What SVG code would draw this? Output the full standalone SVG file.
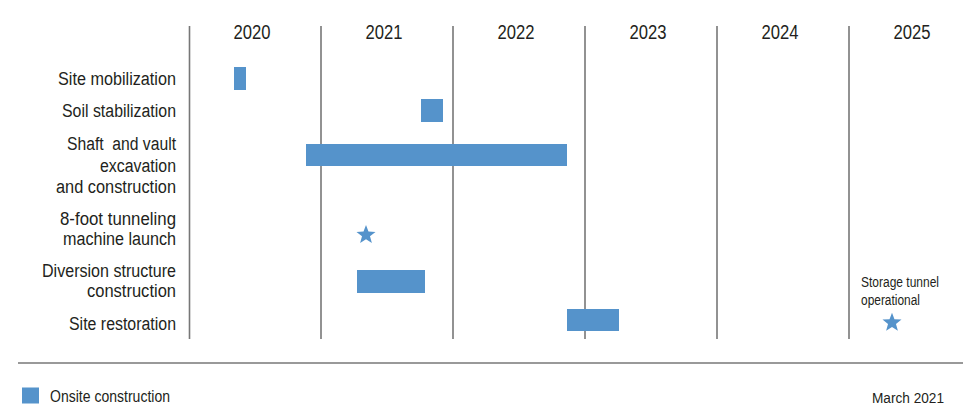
<svg xmlns="http://www.w3.org/2000/svg" xmlns:xlink="http://www.w3.org/1999/xlink" width="970" height="411" viewBox="0 0 970 411">
<style>
  .grid { stroke: #777777; stroke-width: 1.6; fill: none; }
  .year { font-family: "Liberation Sans", Arial, sans-serif; font-size: 20px; fill: #231f20; text-anchor: middle; }
  .row { font-family: "Liberation Sans", Arial, sans-serif; font-size: 18px; fill: #231f20; text-anchor: end; white-space: pre; }
  .bar { fill: #5593cb; }
  .note { font-family: "Liberation Sans", Arial, sans-serif; font-size: 14px; fill: #231f20; }
  .legend { font-family: "Liberation Sans", Arial, sans-serif; font-size: 17px; fill: #231f20; }
  .date { font-family: "Liberation Sans", Arial, sans-serif; font-size: 15.5px; fill: #231f20; }
</style>
<defs>
  <path id="star" d="M0,-10 L2.47,-3.4 L9.51,-3.09 L3.99,1.3 L5.88,8.09 L0,4.2 L-5.88,8.09 L-3.99,1.3 L-9.51,-3.09 L-2.47,-3.4 Z" fill="#5593cb"/>
</defs>
<rect width="970" height="411" fill="#ffffff"/>
<g id="connectors">
  <line class="grid" x1="189.5" y1="26" x2="189.5" y2="339"/>
  <line class="grid" x1="321" y1="26" x2="321" y2="339"/>
  <line class="grid" x1="453" y1="26" x2="453" y2="339"/>
  <line class="grid" x1="585" y1="26" x2="585" y2="339"/>
  <line class="grid" x1="717" y1="26" x2="717" y2="339"/>
  <line class="grid" x1="849" y1="26" x2="849" y2="339"/>
  <line class="grid" x1="18" y1="363" x2="963" y2="363"/>
</g>
<g id="years">
  <text class="year" x="252" y="39" textLength="37" lengthAdjust="spacingAndGlyphs">2020</text>
  <text class="year" x="384" y="39" textLength="37" lengthAdjust="spacingAndGlyphs">2021</text>
  <text class="year" x="516" y="39" textLength="37" lengthAdjust="spacingAndGlyphs">2022</text>
  <text class="year" x="648" y="39" textLength="37" lengthAdjust="spacingAndGlyphs">2023</text>
  <text class="year" x="780" y="39" textLength="37" lengthAdjust="spacingAndGlyphs">2024</text>
  <text class="year" x="912" y="39" textLength="37" lengthAdjust="spacingAndGlyphs">2025</text>
</g>
<g id="site-mobilization">
  <text class="row" x="176" y="85" textLength="118" lengthAdjust="spacingAndGlyphs">Site mobilization</text>
  <rect class="bar" x="234" y="67" width="12" height="23"/>
</g>
<g id="soil-stabilization">
  <text class="row" x="176" y="116.5" textLength="114" lengthAdjust="spacingAndGlyphs">Soil stabilization</text>
  <rect class="bar" x="421" y="99" width="22" height="23"/>
</g>
<g id="shaft-vault">
  <text class="row" x="176" y="150" textLength="109" lengthAdjust="spacingAndGlyphs">Shaft  and vault</text>
  <text class="row" x="176" y="171.5" textLength="76" lengthAdjust="spacingAndGlyphs">excavation</text>
  <text class="row" x="176" y="193" textLength="120" lengthAdjust="spacingAndGlyphs">and construction</text>
  <rect class="bar" x="306" y="144" width="261" height="22"/>
</g>
<g id="tunneling-launch">
  <text class="row" x="176" y="225" textLength="116" lengthAdjust="spacingAndGlyphs">8-foot tunneling</text>
  <text class="row" x="176" y="245" textLength="113" lengthAdjust="spacingAndGlyphs">machine launch</text>
  <use xlink:href="#star" href="#star" x="366" y="235"/>
</g>
<g id="diversion-structure">
  <text class="row" x="176" y="277" textLength="134" lengthAdjust="spacingAndGlyphs">Diversion structure</text>
  <text class="row" x="176" y="297" textLength="89" lengthAdjust="spacingAndGlyphs">construction</text>
  <rect class="bar" x="357" y="270" width="68" height="23"/>
</g>
<g id="site-restoration">
  <text class="row" x="176" y="330" textLength="107" lengthAdjust="spacingAndGlyphs">Site restoration</text>
  <rect class="bar" x="567" y="309" width="52" height="22"/>
</g>
<g id="storage-tunnel">
  <text class="note" x="861" y="287" textLength="78" lengthAdjust="spacingAndGlyphs">Storage tunnel</text>
  <text class="note" x="861" y="305" textLength="59" lengthAdjust="spacingAndGlyphs">operational</text>
  <use xlink:href="#star" href="#star" x="892" y="322.7"/>
</g>
<g id="legend">
  <rect class="bar" x="22" y="387.5" width="17" height="16"/>
  <text class="legend" x="50" y="401.5" textLength="120" lengthAdjust="spacingAndGlyphs">Onsite construction</text>
</g>
<g id="date">
  <text class="date" x="872" y="403" textLength="72" lengthAdjust="spacingAndGlyphs">March 2021</text>
</g>
</svg>
